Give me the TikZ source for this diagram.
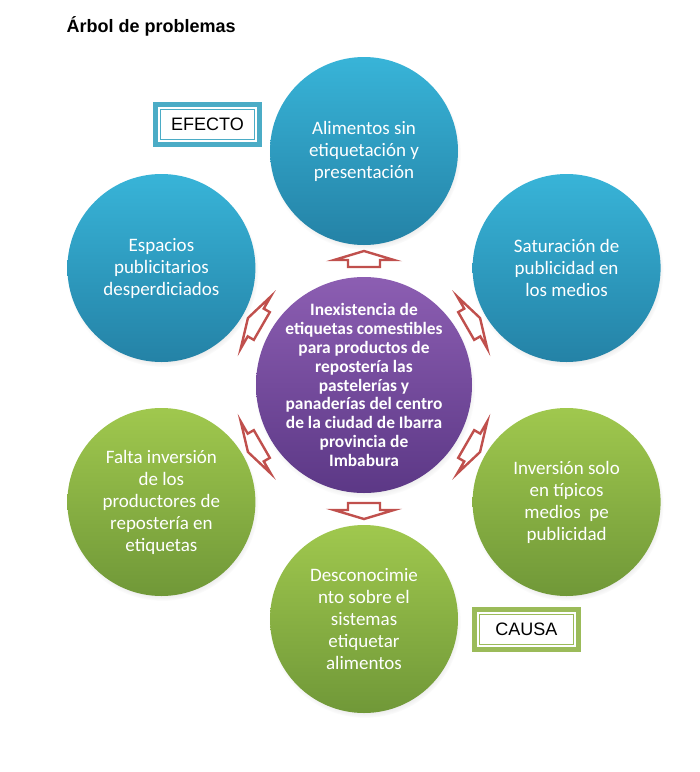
\documentclass[tikz,border=0pt]{standalone}
\usepackage{fontspec}
\setmainfont{Carlito}
\newfontfamily\arialfont{Liberation Sans}
\usetikzlibrary{shadows,fadings}
\definecolor{blueT}{RGB}{56,180,216}
\definecolor{blueB}{RGB}{36,130,166}
\definecolor{greenT}{RGB}{160,200,78}
\definecolor{greenB}{RGB}{112,152,56}
\definecolor{purT}{RGB}{140,94,178}
\definecolor{purB}{RGB}{92,56,134}
\definecolor{arrowred}{RGB}{192,80,77}
\definecolor{boxblue}{RGB}{75,172,198}
\definecolor{boxgreen}{RGB}{155,187,89}
\begin{document}
\begin{tikzpicture}[x=1pt,y=-1pt,
  circ/.style={circle, inner sep=0pt, text=white, align=center,
    circular drop shadow={shadow xshift=1pt, shadow yshift=-3pt, shadow scale=1.02, opacity=0.35}},
  sat/.style={circ, minimum size=188pt, font=\fontsize{19}{22}\selectfont},
  bluec/.style={sat, top color=blueT, bottom color=blueB},
  greenc/.style={sat, top color=greenT, bottom color=greenB},
  centerc/.style={circ, minimum size=216pt, inner sep=-10pt, top color=purT, bottom color=purB,
    font=\bfseries\fontsize{17.4}{18.8}\selectfont},
  tagbox/.style={rectangle, fill=white, draw=#1, line width=1.4pt,
    preaction={draw=#1, line width=15.2pt},
    preaction={draw=white, line width=5.2pt},
    minimum width=93.8pt, minimum height=29.8pt, inner sep=0pt,
    font=\arialfont\fontsize{18}{20}\selectfont, text=black},
  barrow/.pic={\draw[arrowred, line width=2.4pt, fill=white, line join=miter]
    (118,-16) -- (125,-16) -- (125,-30) -- (134,0) -- (125,30) -- (125,16) -- (118,16) -- cycle;}
]
\fill[white] (0,0) rectangle (700,772);
\useasboundingbox (0,0) rectangle (700,772);

\node[anchor=base west, font=\arialfont\bfseries\fontsize{18}{20}\selectfont] (title) at (63,32) {Árbol de problemas};

\node[centerc] (c) at (364,385) {Inexistencia de\\etiquetas comestibles\\para productos de\\repostería las\\pastelerías y\\panaderías del centro\\de la ciudad de Ibarra\\provincia de\\Imbabura};

\node[bluec] (top) at (364,151) {Alimentos sin\\etiquetación y\\presentación};
\node[bluec] (ul) at (161.4,268) {Espacios\\publicitarios\\desperdiciados};
\node[bluec] (ur) at (566.6,268) {Saturación de\\publicidad en\\los medios};
\node[greenc] (ll) at (161.4,502) {Falta inversión\\de los\\productores de\\repostería en\\etiquetas};
\node[greenc] (lr) at (566.6,502) {Inversión solo\\en típicos\\medios\ \ pe\\publicidad};
\node[greenc] (bot) at (364,619) {Desconocimie\\nto sobre el\\sistemas\\etiquetar\\alimentos};

\pic[rotate=90] at (c) {barrow};
\pic[rotate=150] at (c) {barrow};
\pic[rotate=30] at (c) {barrow};
\pic[rotate=210] at (c) {barrow};
\pic[rotate=330] at (c) {barrow};
\pic[rotate=270] at (c) {barrow};

\node[tagbox=boxblue] (efecto) at (207.5,124.5) {EFECTO};
\node[tagbox=boxgreen] (causa) at (526.5,629.5) {CAUSA};
\end{tikzpicture}
\end{document}
